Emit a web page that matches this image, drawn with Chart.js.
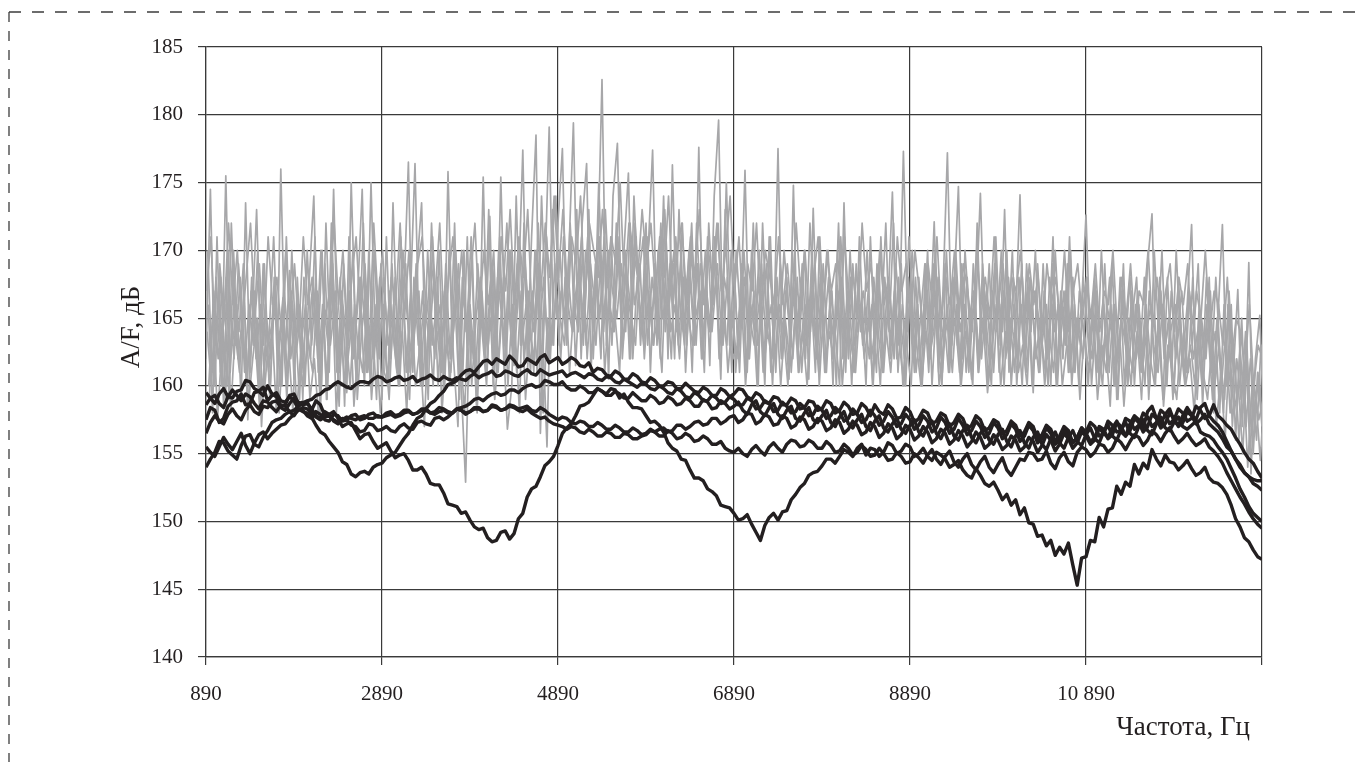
<!DOCTYPE html>
<html>
<head>
<meta charset="utf-8">
<title>A/F</title>
<script src="https://cdn.jsdelivr.net/npm/chart.js@4.4.1/dist/chart.umd.min.js"></script>
<style>
  html, body { margin: 0; padding: 0; background: #fff; }
  canvas { display: block; }
</style>
</head>
<body>
<canvas id="spectrum" width="1361" height="762"></canvas>
<script>
// ---------------- DATA ----------------

// sweep grid: 50 Hz step from 890 Hz; the grey sweeps start a little later
const sweepStep = 50, sweepCount = 241;
const blackStart = 890;
const greyStarts = [890, 915, 903, 928, 909, 921, 896];

const xTickValues = [890, 2890, 4890, 6890, 8890, 10890, 12890];
const xTickLabels = ["890", "2890", "4890", "6890", "8890", "10 890", ""];

// grey: raw spectra
const greyA = [
  162, 174.5, 160, 168, 158.5, 170, 163, 166, 159, 173.5,
  161, 167, 160, 169, 163, 164.5, 158, 176, 162, 168.5,
  160.5, 166, 159, 170, 163, 167.5, 158, 169, 161, 174.5,
  162, 166, 159.5, 175, 164, 168, 160, 170, 162, 167,
  159, 171, 162, 168, 160, 167, 176.5, 161, 169, 173.5,
  160, 166, 162, 170, 159.5, 175.8, 163, 168, 160, 152.9,
  166, 162, 160.5, 175.4, 162, 169, 161, 175.4, 163, 170,
  161.5, 167, 177.4, 162, 171, 178.5, 156.5, 168, 179.1, 163,
  172, 177.5, 163, 171, 161.5, 168, 164, 173, 162, 169,
  182.6, 163, 171, 165, 161, 170, 175.7, 162, 168, 164,
  172, 161, 169, 163.5, 174, 162, 176.3, 164, 170, 161,
  168, 163, 177.6, 162, 171, 164, 168, 160.5, 173, 163,
  169, 162, 168, 161, 170, 164, 167, 160, 171, 163,
  177.5, 162, 168, 161, 166, 164, 170, 160.5, 173.1, 163,
  168, 161, 167, 164, 160, 173.5, 162, 169, 164, 166,
  160, 171, 163, 168, 161, 166, 174.3, 162, 169, 160,
  167, 161, 168, 163, 170, 160, 166, 164, 169, 161,
  167, 174.7, 162, 168, 160.5, 166, 174.2, 163, 169, 161,
  167, 164, 170, 160, 165, 174.1, 162, 167, 159.5, 169,
  163, 166, 160, 170, 164, 167, 161, 168, 163, 166,
  172.6, 163, 168, 160, 166, 162, 169, 159, 165, 163,
  168, 160, 166, 162, 169, 172.7, 161, 167, 163, 165,
  159.5, 168, 162, 166, 171.9, 160, 165, 162, 168, 158,
  165, 171.9, 160, 166, 156, 163, 158, 169.1, 155, 161,
  157
];

const greyB = [
  166, 158, 171, 160, 175.5, 161, 167, 164, 169, 157.5,
  165, 173, 162, 166, 159, 168, 163, 166.5, 160, 170,
  162.5, 165, 160, 168, 174, 161, 166, 159, 172, 163,
  168, 158.5, 171, 162, 167, 174.5, 161, 175, 163, 168,
  161, 160, 173.5, 163, 169, 161, 167, 176.4, 162, 166,
  159, 171, 164, 161, 169, 162, 172, 160, 167, 163,
  170, 158.5, 168, 163, 172.5, 161, 170, 164, 156.8, 160,
  174, 163, 169, 165, 161, 172, 164, 155.5, 170, 174,
  165, 163, 170, 179.4, 164, 172, 176.4, 161, 169, 165,
  171, 160.5, 174, 177.9, 164, 169, 162, 172, 166, 163,
  170, 177.4, 163, 171, 165, 169, 162, 173, 164, 168,
  161, 172, 165, 170, 161.5, 174, 179.6, 163, 168, 161,
  170, 165, 175.9, 162, 167, 160, 172, 164, 166, 161,
  169, 165, 160.5, 174.8, 162, 169, 163, 167, 161, 171,
  164, 168, 160, 170, 165, 162, 168, 161, 171, 163,
  167, 160, 169, 165, 172, 162, 167, 163, 177.3, 164,
  170, 163, 160, 169, 164, 172.1, 161, 167, 177.2, 163,
  168, 160, 170, 165, 167, 161, 169, 164, 160, 171,
  163, 173, 161, 168, 165, 160, 169, 164, 170, 161,
  167, 163, 171, 160, 166, 163, 170, 161, 167, 164,
  160, 166, 161, 170, 163, 158.5, 166, 162, 169, 160,
  165, 168, 161, 166, 160, 170, 164, 159, 168, 161,
  170, 163, 160, 167, 164, 169, 158.5, 166, 161, 168,
  162, 159, 167, 161, 167.1, 157, 164, 153.5, 162, 165.2,
  156
];

const greyC = [
  164, 160, 168, 161, 166, 159, 170, 162, 165, 160,
  167, 163, 158, 169, 161, 166, 164, 160, 171, 162,
  165, 159, 168, 163, 161, 167, 160, 172, 163, 166,
  158.5, 169, 162, 165, 160, 168, 164, 161, 170, 163,
  166, 160, 169, 162, 171, 164, 159, 168, 163, 167,
  161, 172, 164, 166, 160, 170, 162, 157, 168, 164,
  171, 161, 167, 163, 173, 160, 168, 165, 162, 170,
  164, 158, 172, 163, 167, 161, 174, 165, 162, 169,
  163, 171, 166, 164, 173, 162, 170, 167, 164, 175,
  165, 168, 163, 172, 166, 170, 162, 174, 167, 164,
  171, 165, 168, 162, 173, 166, 169, 164, 172, 163,
  170, 165, 167, 161, 172, 166, 169, 163, 175, 164,
  167, 161, 170, 164, 166, 160, 169, 163, 171, 162,
  166, 164, 160, 170, 163, 168, 162, 172, 165, 161,
  169, 163, 167, 160, 171, 164, 166, 161, 168, 163,
  170, 162, 165, 160, 168, 164, 172, 161, 166, 163,
  160, 168, 162, 166, 161, 169, 164, 160, 170, 163,
  165, 161, 168, 163, 160, 172, 162, 166, 164, 169,
  161, 167, 163, 170, 160, 166, 162, 168, 164, 161,
  169, 162, 166, 160, 167, 163, 171, 161, 165, 162,
  168, 160, 165, 162, 169, 161, 166, 159, 167, 163,
  160, 166, 162, 168, 159, 165, 163, 170, 161, 164,
  166, 160, 164, 161, 168, 159, 165, 162, 167, 160,
  163, 158, 166, 157, 162, 159, 164, 155, 160, 157.5,
  159
];

const greyD = [
  159, 167, 162, 165, 160, 172, 163, 168, 161, 166,
  163, 170, 159, 165, 162, 168, 160, 167, 163, 158,
  168, 161, 165, 162, 171, 160, 166, 163, 169, 161,
  167, 164, 160, 166, 162, 172, 161, 165, 159, 169,
  162, 167, 163, 160, 170, 165, 162, 169, 160, 166,
  163, 168, 160, 167, 164, 162, 170, 163, 158, 166,
  162, 169, 164, 160, 168, 163, 171, 161, 166, 162,
  169, 163, 166, 161, 170, 164, 168, 162, 173, 165,
  167, 164, 172, 166, 169, 163, 171, 165, 168, 162,
  173, 166, 164, 170, 163, 168, 165, 171, 163, 169,
  166, 163, 170, 165, 167, 162, 171, 166, 163, 170,
  165, 169, 162, 167, 164, 170, 163, 168, 166, 162,
  163, 169, 161, 166, 164, 170, 162, 167, 160, 168,
  162, 167, 164, 169, 161, 165, 163, 170, 162, 166,
  161, 166, 163, 172, 162, 167, 160, 169, 164, 165,
  162, 168, 164, 161, 167, 163, 169, 165, 162, 171,
  164, 166, 160, 167, 163, 170, 162, 165, 161, 168,
  163, 169, 161, 165, 166, 162, 168, 160, 167, 164,
  170, 162, 165, 161, 168, 163, 167, 160, 166, 164,
  161, 168, 164, 166, 162, 169, 160, 165, 163, 167,
  162, 167, 163, 160, 166, 164, 161, 168, 160, 165,
  163, 167, 161, 164, 166, 160, 168, 162, 165, 159,
  164, 167, 161, 163, 160, 166, 162, 164, 159, 165,
  160, 164, 158, 162, 156, 161, 154, 160, 156, 163,
  158
];

const greyE = [
  170, 161, 164, 168, 159, 166, 162, 169, 164, 160,
  168, 162, 166, 160, 164, 171, 162, 165, 159, 167,
  163, 166, 161, 164, 168, 162, 170, 159, 165, 167,
  161, 165, 163, 170, 159, 164, 167, 160, 166, 162,
  168, 163, 165, 161, 166, 169, 161, 164, 167, 160,
  170, 163, 166, 162, 167, 160, 165, 169, 161, 171,
  160, 165, 168, 162, 166, 170, 161, 166, 172, 163,
  165, 170, 162, 167, 164, 168, 160, 171, 163, 166,
  170, 165, 168, 164, 167, 171, 163, 169, 166, 171,
  164, 170, 167, 165, 169, 164, 172, 166, 168, 171,
  163, 168, 165, 172, 164, 167, 170, 163, 168, 166,
  172, 163, 169, 166, 164, 168, 172, 165, 163, 170,
  161, 166, 168, 162, 172, 163, 165, 169, 161, 167,
  164, 170, 166, 162, 168, 161, 166, 164, 169, 160,
  166, 170, 162, 165, 168, 161, 170, 163, 165, 167,
  164, 166, 161, 171, 163, 167, 162, 168, 160, 166,
  167, 161, 165, 169, 162, 164, 168, 161, 166, 162,
  170, 164, 166, 161, 169, 163, 164, 167, 162, 165,
  166, 160, 168, 164, 162, 169, 161, 165, 167, 163,
  165, 160, 169, 162, 164, 167, 161, 166, 160, 168,
  164, 162, 167, 161, 164, 168, 160, 163, 166, 161,
  167, 162, 164, 160, 167, 163, 161, 166, 160, 167,
  162, 165, 161, 167, 162, 164, 160, 168, 162, 164,
  158, 166, 160, 163, 159, 165, 157, 162, 158, 161,
  155
];

const greyF = [
  160, 166, 157.5, 163, 168, 158, 164, 161, 167, 158.5,
  162, 165, 157, 163, 160, 167, 158, 164, 161, 166,
  158, 163, 166, 159, 162, 157.5, 165, 160, 168, 158,
  164, 160, 167, 158.5, 163, 161, 166, 159, 164, 158,
  163, 159, 166, 161, 164, 158, 167, 160, 163, 157,
  165, 160, 168, 158, 163, 161, 166, 159, 170, 160,
  164, 158, 167, 161, 165, 159, 163, 168, 160, 166,
  161, 167, 159, 164, 162, 169, 158, 165, 163, 167,
  162, 168, 161, 166, 164, 170, 162, 167, 163, 169,
  161, 166, 164, 171, 162, 167, 165, 163, 169, 162,
  167, 163, 165, 161, 170, 164, 166, 162, 168, 165,
  163, 169, 162, 166, 164, 171, 162, 167, 161, 165,
  162, 167, 160, 165, 163, 168, 161, 164, 162, 166,
  160, 165, 162, 167, 161, 164, 160, 166, 163, 168,
  161, 164, 162, 167, 160, 165, 163, 161, 166, 162,
  165, 160, 167, 162, 164, 161, 166, 163, 160, 168,
  162, 165, 160, 164, 162, 167, 160, 163, 165, 161,
  166, 160, 164, 162, 167, 161, 165, 159.5, 163, 166,
  160, 164, 162, 166, 161, 163, 160, 167, 162, 165,
  160, 164, 161, 166, 160, 163, 162, 165, 159, 164,
  161, 165, 159, 163, 161, 166, 160, 164, 158.5, 163,
  161, 164, 159, 166, 162, 160, 165, 158.5, 163, 161,
  159, 164, 160, 162, 158, 165, 161, 159, 163, 157,
  161, 156, 163, 158, 160, 155, 162, 157, 159, 154.5,
  160
];

const greyG = [
  167, 171, 163, 169, 165, 172, 166, 170, 164, 168,
  172, 165, 169, 163, 171, 166, 168, 164, 170, 165,
  169, 164, 171, 166, 168, 163, 170, 165, 167, 172,
  166, 170, 164, 168, 171, 165, 169, 163, 172, 166,
  170, 164, 168, 166, 172, 165, 170, 163, 169, 171,
  165, 169, 167, 172, 164, 168, 171, 166, 170, 164,
  168, 172, 165, 170, 166, 169, 164, 171, 167, 173,
  166, 171, 168, 173, 165, 170, 167, 172, 168, 174,
  168, 173, 167, 171, 169, 174, 166, 172, 170, 168,
  173, 168, 171, 169, 175, 167, 172, 170, 168, 173,
  169, 172, 167, 171, 168, 174, 166, 170, 172, 167,
  171, 168, 173, 166, 170, 168, 172, 167, 170, 174,
  167, 171, 165, 169, 167, 172, 165, 170, 168, 166,
  171, 166, 169, 165, 172, 167, 170, 165, 168, 171,
  165, 170, 167, 169, 164, 171, 166, 168, 165, 172,
  167, 169, 165, 170, 166, 168, 164, 171, 167, 169,
  165, 170, 167, 164, 169, 166, 171, 165, 168, 166,
  170, 165, 169, 167, 164, 170, 166, 168, 165, 171,
  166, 169, 164, 168, 167, 170, 165, 169, 166, 168,
  164, 169, 166, 168, 165, 170, 164, 167, 169, 165,
  168, 165, 169, 164, 167, 166, 170, 164, 168, 165,
  169, 164, 167, 166, 170, 164, 168, 165, 167, 169,
  164, 168, 166, 169, 163, 167, 165, 170, 164, 167,
  166, 163, 168, 162, 165, 164, 161, 166, 160, 163,
  162
];

// black: smoothed spectra
const black1 = [
  157.5, 158.4, 158.2, 157.3, 157.6, 158.5, 158.8, 158.9, 159.4, 158.6, 158.7, 159.5, 159.6, 159.3, 160, 159.4, 159.2, 158.5, 158.6, 159.3,
  159.4, 158.7, 158.8, 158.8, 158.2, 158.9, 158.6, 157.8, 157.9, 158.1, 157.6, 157, 157.2, 157.3, 156.7, 156.1, 156.4, 156.5, 155.9, 155.4,
  155.6, 155.8, 155.2, 154.7, 154.9, 155, 154.5, 153.8, 153.8, 154, 153.5, 152.8, 152.7, 152.7, 152.1, 151.3, 151.2, 151.1, 150.6, 150.7,
  150.1, 149.6, 149.4, 149.5, 148.8, 148.5, 148.6, 149.2, 149.3, 148.7, 149.1, 150.2, 150.6, 151.8, 152.4, 152.6, 153.3, 154.1, 154.4, 154.8,
  155.6, 156.5, 156.9, 157.2, 157.8, 158.5, 158.6, 158.8, 159.3, 159.8, 159.6, 159.4, 159.8, 159.7, 159.1, 159.4, 158.8, 158.4, 158.4, 158.3,
  157.8, 157.3, 157.4, 157.1, 156.6, 155.8, 155.4, 155.2, 154.6, 154.5, 153.8, 153.2, 153.2, 153, 152.4, 152.2, 151.9, 151.2, 151.1, 151,
  150.6, 150.1, 150.2, 150.5, 149.8, 149.2, 148.6, 149.7, 150.3, 150.6, 150.1, 150.7, 150.8, 151.6, 152, 152.5, 152.8, 153.4, 153.6, 153.7,
  154.1, 154.6, 154.6, 154.3, 154.8, 155.3, 155.1, 154.8, 155.4, 155.7, 154.9, 155.4, 155.3, 154.8, 155.1, 155.8, 155.6, 155, 155.2, 155.7,
  155.5, 154.8, 155, 155.4, 154.8, 154.5, 155.1, 154.9, 154.6, 154, 154.2, 154.5, 153.8, 153.4, 153.2, 153.9, 153.4, 152.8, 152.6, 152.9,
  152.3, 151.6, 152, 151.2, 151.6, 150.5, 151, 149.9, 149.8, 148.9, 149, 148.2, 148.6, 147.5, 148.1, 147.6, 148.4, 146.8, 145.3, 147.3,
  147.4, 148.6, 148.5, 150.3, 149.6, 150.9, 151, 152.6, 152, 152.9, 152.6, 154.2, 153.5, 154.3, 153.9, 155.3, 154.6, 154.1, 154.9, 154.4,
  154.3, 153.8, 154.1, 154.5, 153.9, 153.4, 153.6, 154, 153.2, 152.9, 152.8, 152.5, 152, 151.2, 150.2, 149.6, 148.8, 148.5, 147.9, 147.4, 147.2
];

const black2 = [
  159.5, 159.1, 158.7, 159.4, 159.8, 159.2, 159.1, 159.6, 159.7, 160.4, 160.3, 159.8, 159.6, 159.9, 158.9, 159.3, 159.5, 158.9, 158.8, 159.2,
  158.9, 158.3, 158.1, 158, 157.7, 157.1, 156.6, 156.4, 155.9, 155.5, 155.1, 154.4, 154.2, 153.5, 153.3, 153.6, 153.7, 153.5, 154, 154.2,
  154.3, 154.7, 154.9, 155.1, 155.6, 156.1, 156.5, 157.1, 157.6, 157.8, 158.3, 158.7, 158.9, 159.3, 159.6, 160.1, 160.2, 160.4, 160.8, 161.1,
  161.2, 161, 161.4, 161.8, 161.9, 161.6, 162, 161.8, 161.6, 162.2, 161.9, 161.4, 161.5, 162, 161.8, 161.6, 162.1, 162.3, 161.7, 161.9,
  162.1, 161.6, 161.8, 162.1, 161.9, 161.5, 161.4, 161.7, 161, 161.3, 161.2, 160.8, 160.7, 161.1, 160.9, 160.5, 160.5, 160.9, 160.7, 160.3,
  160.2, 160.6, 160.4, 160, 160, 160.3, 160.2, 159.8, 159.8, 160.2, 159.9, 159.6, 159.5, 159.9, 159.7, 159.3, 159.3, 159.8, 159.6, 159.2,
  159.4, 159.8, 159.7, 159.2, 159, 159.5, 159.3, 158.8, 158.7, 159.2, 159.1, 158.6, 158.6, 159.1, 158.9, 158.3, 158.4, 158.9, 158.8, 158.2,
  158.3, 158.9, 158.7, 158, 158.2, 158.8, 158.5, 157.9, 158, 158.7, 158.4, 157.8, 158.6, 158.1, 157.9, 158.6, 158.3, 157.6, 157.7, 158.4,
  158.1, 157.3, 157.6, 158.2, 158, 157.2, 157.4, 158, 157.8, 157, 157.3, 157.9, 157.6, 156.8, 157.1, 157.8, 157.5, 156.7, 156.9, 157.5,
  157.3, 156.5, 156.7, 157.4, 157.1, 156.3, 156.6, 157.3, 157, 156.1, 156.4, 157.1, 156.8, 155.9, 156.3, 157, 156.7, 155.8, 156.2, 156.9,
  156.6, 157.3, 157, 156.3, 156.5, 157.4, 157.1, 156.6, 156.7, 157.6, 157.4, 156.8, 157.1, 158, 157.7, 157, 157.3, 158.2, 157.9, 157.2,
  157.5, 158.3, 158, 157.4, 157.6, 158.5, 158.2, 157.6, 157.8, 158.6, 157.8, 157.5, 157.1, 156.8, 156.2, 155.7, 155.1, 154.6, 154.3, 153.7, 153.2
];

const black3 = [
  154, 154.6, 155.1, 155.9, 155.8, 155.2, 154.9, 154.6, 155.6, 156.3, 156.4, 155.7, 155.5, 156.2, 156.7, 157.3, 157.5, 157.6, 157.9, 158.1,
  158.2, 158.5, 158.7, 158.9, 159, 159.3, 159.4, 159.7, 159.8, 160.1, 160.3, 160.1, 159.9, 159.8, 160.1, 160.3, 160.3, 160.2, 160.5, 160.7,
  160.6, 160.3, 160.4, 160.6, 160.7, 160.4, 160.5, 160.7, 160.3, 160.5, 160.6, 160.8, 160.5, 160.4, 160.7, 160.5, 160.4, 160.6, 160.5, 160.4,
  160.7, 160.9, 160.6, 160.8, 160.9, 161.1, 160.7, 160.8, 161.1, 161, 160.8, 160.7, 161, 161.2, 160.9, 160.8, 161.2, 161, 160.8, 160.9,
  161, 161.1, 160.7, 160.9, 161, 160.8, 160.6, 160.9, 160.8, 160.5, 160.4, 160.7, 160.6, 160.3, 160.2, 160.5, 160.3, 160.1, 159.9, 160.2,
  160.1, 159.8, 159.7, 160, 159.8, 159.5, 159.4, 159.8, 159.6, 159.2, 159.1, 159.5, 159.3, 158.9, 158.9, 159.3, 159.1, 158.7, 158.8, 159.2,
  159, 158.6, 158.6, 159.1, 158.9, 158.3, 158.4, 158.9, 158.7, 158.1, 158.2, 158.8, 158.5, 158, 158.1, 158.7, 158.4, 157.8, 157.9, 158.5,
  158.2, 157.6, 157.8, 158.4, 158.1, 157.4, 157.6, 158.3, 157.9, 157.3, 157.5, 158.2, 157.8, 157.1, 157.4, 158.1, 157.7, 157, 157.2, 157.9,
  157.5, 156.8, 157.1, 157.8, 157.4, 156.6, 156.9, 157.7, 157.3, 156.5, 156.8, 157.6, 157.1, 156.4, 156.7, 157.4, 157, 156.2, 156.5, 157.3,
  156.9, 156.1, 156.4, 157.2, 156.8, 155.9, 156.3, 157.1, 156.7, 155.8, 156.1, 156.9, 156.5, 155.7, 156, 156.8, 156.4, 155.8, 156.2, 156.9,
  156.5, 155.9, 156.2, 157, 156.8, 156.1, 156.4, 157.3, 157, 156.3, 156.7, 157.6, 157.3, 156.6, 157, 157.9, 157.6, 156.9, 157.2, 158,
  157.6, 157, 157.3, 158.1, 157.8, 157.2, 157.5, 157.9, 157.2, 156.9, 156.6, 156.1, 155.5, 155.2, 154.6, 154.2, 153.6, 153.3, 152.8, 152.6, 152.3
];

const black4 = [
  156.5, 157.3, 157.8, 157.4, 157.2, 157.9, 158.3, 157.8, 157.5, 158.2, 158.6, 158.1, 157.9, 158.5, 158.4, 158.8, 158.9, 158.4, 158.2, 158.7,
  159.1, 158.8, 158.6, 158.7, 158.3, 157.8, 157.6, 158.1, 157.9, 157.4, 157.2, 157.6, 157.5, 157.1, 157, 156.6, 156.7, 157.2, 157.1, 156.7,
  156.8, 157, 156.7, 156.6, 157, 157.2, 156.9, 156.8, 157.3, 157.4, 157.2, 157.1, 157.6, 157.7, 157.5, 157.7, 158, 158.3, 158.4, 158.5,
  158.7, 159, 159.1, 158.9, 159.2, 159.4, 159.5, 159.3, 159.4, 159.7, 159.7, 159.5, 159.8, 160, 160.1, 159.9, 160, 160.4, 160.3, 160.1,
  160.1, 160.3, 159.9, 159.7, 159.7, 160, 159.8, 159.5, 159.5, 159.8, 159.6, 159.3, 159.3, 159.6, 159.4, 159.1, 159.1, 159.5, 159.2, 158.9,
  158.9, 159.3, 159.1, 158.7, 158.8, 159.2, 159, 158.6, 158.7, 159.1, 158.9, 158.5, 158.5, 159, 158.8, 158.3, 158.4, 158.9, 158.7, 158.3,
  158.5, 158.8, 158.2, 157.9, 158.6, 158.9, 158.1, 157.8, 158.4, 158.7, 157.9, 157.6, 158.2, 158.5, 157.6, 157.4, 158, 158.4, 157.5, 157.3,
  157.8, 158.2, 157.3, 157, 157.7, 158.1, 157.2, 156.9, 157.5, 157.9, 157, 156.7, 157.4, 157.8, 156.9, 156.6, 157.2, 157.6, 156.8, 156.5,
  157.1, 157.5, 156.6, 156.3, 157, 157.4, 156.5, 156.1, 156.8, 157.2, 156.3, 156, 156.7, 157.1, 156.2, 155.8, 156.5, 156.9, 156, 155.7,
  156.4, 156.8, 155.9, 155.5, 156.3, 156.7, 155.8, 155.4, 156.2, 156.6, 155.7, 155.3, 156.1, 156.6, 155.8, 155.4, 156.2, 156.7, 155.9, 155.6,
  156.4, 156.9, 156.1, 155.8, 156.6, 157.1, 156.3, 156, 156.8, 157.3, 156.5, 156.2, 157, 157.5, 156.7, 156.4, 157.2, 157.7, 156.9, 156.7,
  157.3, 157.7, 157, 156.8, 157.1, 157.4, 156.6, 156.4, 156.3, 156, 155.5, 155.1, 154.6, 153.9, 153.2, 152.4, 151.8, 151.1, 150.6, 150.3, 150
];

const black5 = [
  155.5, 155.1, 154.8, 155.5, 156.2, 155.7, 155.3, 155.9, 156.5, 155.6, 155, 155.8, 156.4, 156.6, 156.1, 156.5, 156.8, 157.1, 157.2, 157.6,
  157.9, 158.2, 158.4, 158.3, 158, 157.7, 157.5, 157.7, 157.8, 157.5, 157.3, 157.5, 157.7, 157.6, 157.5, 157.7, 157.8, 157.6, 157.6, 157.8,
  157.7, 157.8, 157.9, 157.7, 157.8, 158, 158.1, 157.9, 158, 158.2, 158.2, 158, 157.9, 158.1, 158.2, 158, 158, 158.3, 158.2, 158,
  158.1, 158.3, 158.3, 158.1, 158.2, 158.5, 158.4, 158.2, 158.3, 158.6, 158.5, 158.3, 158.4, 158.5, 158.2, 158.1, 158.4, 158.2, 157.9, 157.7,
  157.5, 157.7, 157.6, 157.3, 157.2, 157.4, 157.3, 157, 157, 157.3, 157.1, 156.8, 156.8, 157.1, 156.9, 156.6, 156.6, 156.9, 156.7, 156.4,
  156.5, 156.8, 156.6, 156.3, 156.3, 156.7, 156.5, 156.1, 156.2, 156.5, 156.3, 155.9, 156, 156.3, 156.1, 155.7, 155.7, 155.9, 155.4, 155.2,
  155.1, 155.4, 155, 154.8, 155.3, 155.6, 155.2, 154.9, 155.5, 155.8, 155.4, 155.1, 155.7, 156, 155.9, 155.5, 155.6, 156, 155.8, 155.4,
  155.4, 155.9, 155.6, 155.1, 155.2, 155.7, 155.4, 154.9, 155.1, 155.6, 155.3, 154.8, 154.9, 155.4, 155, 154.5, 154.6, 155.1, 154.8, 154.3,
  154.4, 155, 154.7, 154.3, 154.9, 155.3, 154.6, 154.2, 154.8, 155.2, 154.4, 154, 154.6, 155, 154.2, 153.8, 154.4, 154.8, 154, 153.6,
  154.2, 154.7, 153.8, 153.4, 154, 154.6, 154.5, 155.1, 155, 154.5, 154.6, 155.2, 154.3, 153.9, 154.7, 155.1, 154.4, 154.1, 155.1, 155.5,
  155.3, 154.8, 155.1, 155.7, 155.6, 155.1, 155.4, 156.1, 155.8, 155.3, 155.9, 156.4, 156.2, 155.6, 156, 156.7, 156.4, 155.9, 156.5, 156.9,
  156.3, 155.8, 156.1, 156.5, 156, 155.6, 155.8, 156.1, 155.5, 155.2, 154.8, 154.3, 153.6, 153, 152.4, 151.8, 151.3, 150.7, 150.2, 149.8, 149.5
];

const black6 = [
  158.6, 159.1, 159.3, 158.7, 158.4, 159.2, 159.7, 159.3, 158.9, 159.4, 159.2, 158.7, 158.3, 158.9, 158.8, 158.4, 158.1, 158.6, 158.5, 158.1,
  157.8, 158.3, 158.2, 157.8, 157.6, 158.1, 157.9, 157.5, 157.4, 157.9, 157.8, 157.4, 157.5, 157.8, 157.9, 157.5, 157.6, 157.9, 158, 157.7,
  157.7, 158, 158.1, 157.8, 157.9, 158.2, 158.2, 157.9, 158, 158.3, 158.3, 158, 158.1, 158.4, 158.3, 158.1, 158, 158.3, 158.2, 157.9,
  158.1, 158.4, 158.4, 158.1, 158.2, 158.6, 158.5, 158.2, 158.3, 158.5, 158.4, 158.2, 158.1, 158.3, 158, 157.8, 157.6, 157.7, 157.4, 157.2,
  157.1, 157, 156.8, 157, 156.9, 156.6, 156.5, 156.8, 156.6, 156.3, 156.3, 156.6, 156.5, 156.2, 156.2, 156.5, 156.4, 156.1, 156.1, 156.3,
  156.4, 156.7, 156.6, 156.8, 156.9, 156.6, 156.7, 157.1, 157.1, 156.8, 157, 157.3, 157.4, 157.1, 157.2, 157.6, 157.6, 157.2, 157.4, 157.7,
  157.8, 157.3, 157.5, 158, 157.9, 157.2, 157.4, 157.9, 157.7, 157.1, 157.2, 157.8, 157.6, 156.9, 157.1, 157.7, 157.5, 156.8, 157, 157.6,
  157.4, 156.7, 156.9, 157.5, 157.3, 156.5, 156.8, 157.4, 157.1, 156.4, 156.6, 157.3, 157, 156.2, 156.5, 157.2, 156.9, 156.1, 156.4, 157.1,
  156.8, 156, 156.3, 157, 156.6, 155.8, 156.1, 156.8, 156.5, 155.7, 156, 156.7, 156.3, 155.5, 155.9, 156.6, 156.2, 155.4, 155.7, 156.4,
  156, 155.3, 155.6, 156.3, 156, 155.2, 155.5, 156.2, 155.9, 155.1, 155.6, 156.4, 156, 155.2, 155.7, 156.5, 156.1, 155.4, 155.8, 156.6,
  156.3, 155.7, 156, 156.9, 156.5, 156.2, 156.9, 157.4, 156.6, 156.3, 157.2, 157.8, 157.5, 156.9, 158.1, 158.5, 157.6, 157.2, 157.9, 158.3,
  157.4, 157.1, 157.8, 158.4, 157.9, 157.5, 158.4, 158.7, 157.8, 157.4, 157.1, 156.6, 155.9, 155.2, 154.6, 154, 153.6, 153.3, 153.1, 153, 153
];

// ---------------- BUILD ----------------

function sweep(start) {
  return Array.from({ length: sweepCount }, (_, i) => start + i * sweepStep);
}

function points(freq, values) {
  return values.map((v, i) => ({ x: freq[i], y: v }));
}

const GREY = "#a7a7a9";
const BLACK = "#231f20";
const GRID = "#3a3a3a";
const FONT = "'Liberation Serif', 'DejaVu Serif', serif";

const blackFreq = sweep(blackStart);
const datasets = [];

[black1, black2, black3, black4, black5, black6].forEach(values => {
  datasets.push({
    data: points(blackFreq, values),
    borderColor: BLACK,
    borderWidth: 3.4,
    order: 1
  });
});

[greyA, greyB, greyC, greyD, greyE, greyF, greyG].forEach((values, k) => {
  datasets.push({
    data: points(sweep(greyStarts[k]), values),
    borderColor: GREY,
    borderWidth: 1.7,
    order: 2
  });
});

// dashed frame and axis titles
const decorations = {
  id: "decorations",
  beforeDraw(chart) {
    const c = chart.ctx;
    c.save();
    c.strokeStyle = "#3c3c3c";
    c.lineWidth = 1.3;

    c.setLineDash([12, 11]);
    c.beginPath();
    c.moveTo(9, 12);
    c.lineTo(1361, 12);
    c.stroke();

    c.setLineDash([10, 9]);
    c.beginPath();
    c.moveTo(9, 12);
    c.lineTo(9, 762);
    c.stroke();
    c.restore();
  },
  afterDraw(chart) {
    const c = chart.ctx;
    c.save();
    c.fillStyle = "#231f20";
    c.font = "27px " + FONT;

    c.textAlign = "right";
    c.textBaseline = "alphabetic";
    c.fillText("Частота, Гц", 1250, 735);

    c.translate(132, 327);
    c.rotate(-Math.PI / 2);
    c.textAlign = "center";
    c.textBaseline = "middle";
    c.fillText("A/F, дБ", 0, 0);
    c.restore();
  }
};

new Chart(document.getElementById("spectrum"), {
  type: "line",
  data: { datasets },
  options: {
    responsive: false,
    animation: false,
    events: [],
    layout: { padding: { top: 47, right: 99, left: 0, bottom: 0 } },
    elements: {
      point: { radius: 0 },
      line: { tension: 0, borderJoinStyle: "round" }
    },
    plugins: {
      legend: { display: false },
      tooltip: { enabled: false }
    },
    scales: {
      x: {
        type: "linear",
        min: 890,
        max: 12890,
        afterBuildTicks: scale => {
          scale.ticks = xTickValues.map(v => ({ value: v }));
        },
        afterFit: scale => { scale.height = 105; },
        grid: { color: GRID, lineWidth: 1.2, tickLength: 8 },
        border: { color: GRID, width: 1.2 },
        ticks: {
          color: "#231f20",
          font: { family: FONT, size: 21 },
          padding: 17,
          maxRotation: 0,
          autoSkip: false,
          callback: (value, i) => xTickLabels[i]
        }
      },
      y: {
        min: 140,
        max: 185,
        afterFit: scale => { scale.width = 206; },
        grid: { color: GRID, lineWidth: 1.2, tickLength: 8 },
        border: { color: GRID, width: 1.2 },
        ticks: {
          stepSize: 5,
          color: "#231f20",
          font: { family: FONT, size: 21 },
          padding: 15
        }
      }
    }
  },
  plugins: [decorations]
});
</script>
</body>
</html>
